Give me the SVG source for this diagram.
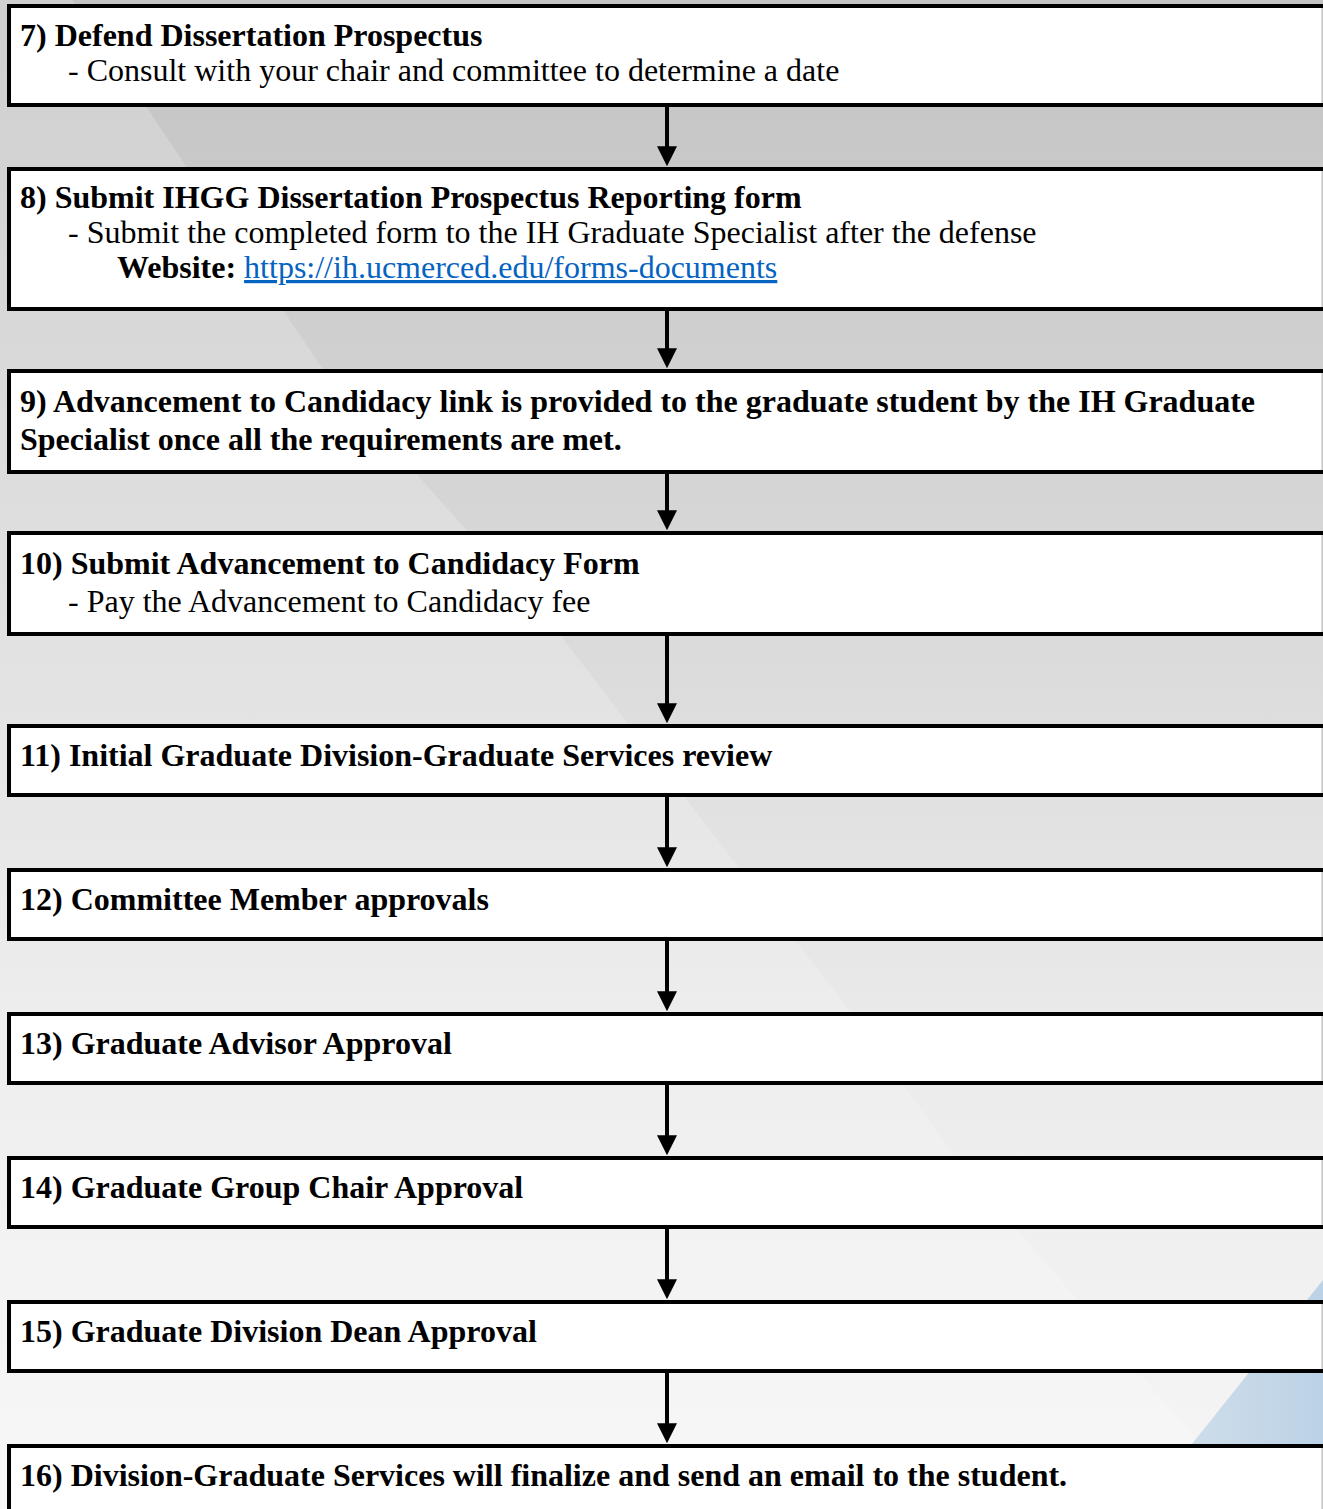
<svg xmlns="http://www.w3.org/2000/svg" width="1323" height="1509" viewBox="0 0 1323 1509">
<style>
.box{fill:#ffffff;stroke:#000000;stroke-width:4}
.edge{stroke:#c4c4c4;stroke-width:1.5}
.t{font-family:"Liberation Serif","Times New Roman",serif;font-size:32px;fill:#000000}
.b{font-weight:bold}
.link{fill:#0563c1;text-decoration:underline}
.conn{stroke:#000000;stroke-width:4;fill:none}
</style>
<defs>
<linearGradient id="bg" x1="0" y1="0" x2="0" y2="1">
<stop offset="0" stop-color="#c3c3c3"/>
<stop offset="0.4" stop-color="#d9d9d9"/>
<stop offset="0.7" stop-color="#ebebeb"/>
<stop offset="1" stop-color="#f6f6f6"/>
</linearGradient>
<linearGradient id="blue" x1="0" y1="0" x2="1" y2="0">
<stop offset="0" stop-color="#d6e1eb"/>
<stop offset="1" stop-color="#bbd2e6"/>
</linearGradient>
<marker id="arr" markerWidth="5" markerHeight="5" refX="0.2" refY="2.5" orient="auto" markerUnits="strokeWidth">
<path d="M0,0 L5,2.5 L0,5 Z" fill="#000000"/>
</marker>
</defs>
<rect x="0" y="0" width="1323" height="1509" fill="url(#bg)"/>
<polygon points="0,0 72,0 147,108 322,368 561,636 685,798 851,1012 954,1155 1076,1298 1200,1444 1260,1509 0,1509" fill="#ffffff" fill-opacity="0.2"/>
<polygon points="1323,1280 1140,1509 1323,1509" fill="url(#blue)"/>

<g id="connectors">
<line class="conn" x1="667" y1="107" x2="667" y2="147" marker-end="url(#arr)"/>
<line class="conn" x1="667" y1="311" x2="667" y2="349" marker-end="url(#arr)"/>
<line class="conn" x1="667" y1="474" x2="667" y2="511" marker-end="url(#arr)"/>
<line class="conn" x1="667" y1="636" x2="667" y2="704" marker-end="url(#arr)"/>
<line class="conn" x1="667" y1="797" x2="667" y2="848" marker-end="url(#arr)"/>
<line class="conn" x1="667" y1="941" x2="667" y2="992" marker-end="url(#arr)"/>
<line class="conn" x1="667" y1="1085" x2="667" y2="1136" marker-end="url(#arr)"/>
<line class="conn" x1="667" y1="1229" x2="667" y2="1280" marker-end="url(#arr)"/>
<line class="conn" x1="667" y1="1373" x2="667" y2="1424" marker-end="url(#arr)"/>
</g>

<g id="step7">
<rect class="box" x="9" y="6" width="1330" height="99"/>
<line class="edge" x1="1322.2" y1="8" x2="1322.2" y2="103"/>
<text class="t b" x="20" y="46">7) Defend Dissertation Prospectus</text>
<text class="t" x="68" y="81">- Consult with your chair and committee to determine a date</text>
</g>

<g id="step8">
<rect class="box" x="9" y="169" width="1330" height="140"/>
<line class="edge" x1="1322.2" y1="171" x2="1322.2" y2="307"/>
<text class="t b" x="20" y="208">8) Submit IHGG Dissertation Prospectus Reporting form</text>
<text class="t" x="68" y="243">- Submit the completed form to the IH Graduate Specialist after the defense</text>
<text class="t" x="117" y="278"><tspan class="b">Website:</tspan> <tspan class="link">https://ih.ucmerced.edu/forms-documents</tspan></text>
</g>

<g id="step9">
<rect class="box" x="9" y="371" width="1330" height="101"/>
<line class="edge" x1="1322.2" y1="373" x2="1322.2" y2="470"/>
<text class="t b" x="20" y="412">9) Advancement to Candidacy link is provided to the graduate student by the IH Graduate</text>
<text class="t b" x="20" y="450">Specialist once all the requirements are met.</text>
</g>

<g id="step10">
<rect class="box" x="9" y="533" width="1330" height="101"/>
<line class="edge" x1="1322.2" y1="535" x2="1322.2" y2="632"/>
<text class="t b" x="20" y="574">10) Submit Advancement to Candidacy Form</text>
<text class="t" x="68" y="612">- Pay the Advancement to Candidacy fee</text>
</g>

<g id="step11">
<rect class="box" x="9" y="726" width="1330" height="69"/>
<line class="edge" x1="1322.2" y1="728" x2="1322.2" y2="793"/>
<text class="t b" x="20" y="766">11) Initial Graduate Division-Graduate Services review</text>
</g>

<g id="step12">
<rect class="box" x="9" y="870" width="1330" height="69"/>
<line class="edge" x1="1322.2" y1="872" x2="1322.2" y2="937"/>
<text class="t b" x="20" y="910">12) Committee Member approvals</text>
</g>

<g id="step13">
<rect class="box" x="9" y="1014" width="1330" height="69"/>
<line class="edge" x1="1322.2" y1="1016" x2="1322.2" y2="1081"/>
<text class="t b" x="20" y="1054">13) Graduate Advisor Approval</text>
</g>

<g id="step14">
<rect class="box" x="9" y="1158" width="1330" height="69"/>
<line class="edge" x1="1322.2" y1="1160" x2="1322.2" y2="1225"/>
<text class="t b" x="20" y="1198">14) Graduate Group Chair Approval</text>
</g>

<g id="step15">
<rect class="box" x="9" y="1302" width="1330" height="69"/>
<line class="edge" x1="1322.2" y1="1304" x2="1322.2" y2="1369"/>
<text class="t b" x="20" y="1342">15) Graduate Division Dean Approval</text>
</g>

<g id="step16">
<rect class="box" x="9" y="1446" width="1330" height="100"/>
<line class="edge" x1="1322.2" y1="1448" x2="1322.2" y2="1509"/>
<text class="t b" x="20" y="1486">16) Division-Graduate Services will finalize and send an email to the student.</text>
</g>
</svg>
